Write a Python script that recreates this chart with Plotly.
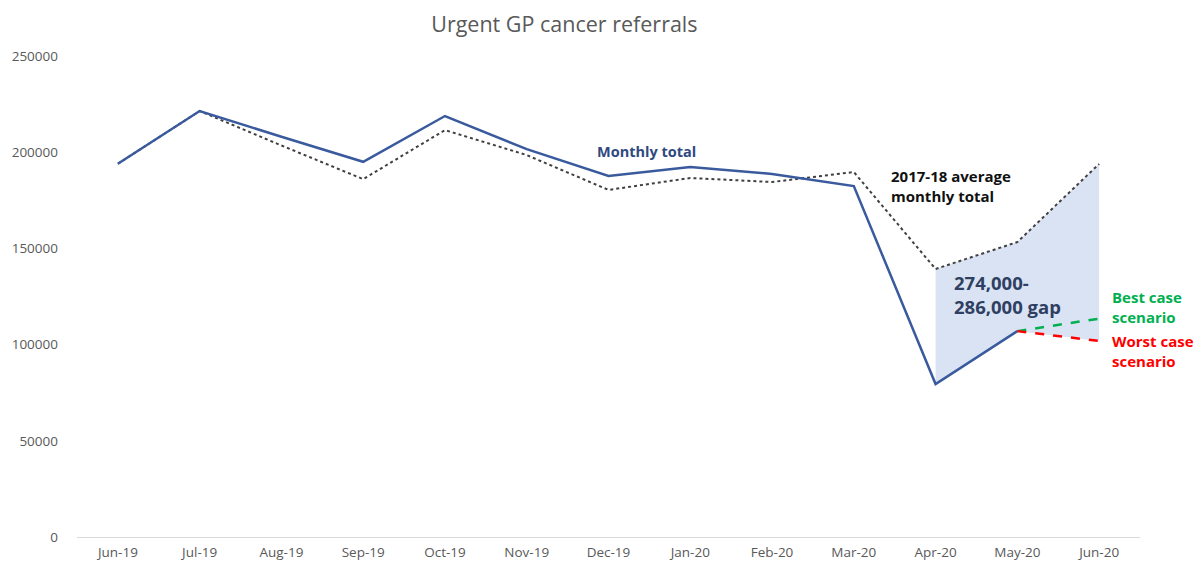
import plotly.graph_objects as go

months = ["Jun-19", "Jul-19", "Aug-19", "Sep-19", "Oct-19", "Nov-19", "Dec-19",
          "Jan-20", "Feb-20", "Mar-20", "Apr-20", "May-20", "Jun-20"]
monthly_total = [194000, 221400, 208000, 195000, 218800, 201600, 187600,
                 192300, 188700, 182400, 79500, 107000]
avg_2017_18 = [194000, 221400, 203500, 186000, 211500, 198500, 180400,
               186600, 184500, 189700, 139300, 153300, 193900]
best_case = [107000, 113500]
worst_case = [107000, 101900]
y_ticks = [0, 50000, 100000, 150000, 200000, 250000]

xi = list(range(len(months)))

fig = go.Figure()

# gap shading: between average and actual/worst case, Apr-20 to Jun-20
gap_x = [10, 11, 12, 12, 11, 10]
gap_y = [avg_2017_18[10], avg_2017_18[11], avg_2017_18[12],
         worst_case[1], monthly_total[11], monthly_total[10]]
fig.add_trace(go.Scatter(x=gap_x, y=gap_y, fill="toself", fillcolor="#DAE3F3",
                         line=dict(width=0), mode="lines", hoverinfo="skip",
                         showlegend=False))

fig.add_trace(go.Scatter(x=xi, y=avg_2017_18, mode="lines",
                         line=dict(color="#404040", width=2, dash="dot"),
                         showlegend=False))
fig.add_trace(go.Scatter(x=xi[:len(monthly_total)], y=monthly_total, mode="lines",
                         line=dict(color="#3A5A9E", width=2.5),
                         showlegend=False))
fig.add_trace(go.Scatter(x=[11, 12], y=best_case, mode="lines",
                         line=dict(color="#00B050", width=2.5, dash="dash"),
                         showlegend=False))
fig.add_trace(go.Scatter(x=[11, 12], y=worst_case, mode="lines",
                         line=dict(color="#FF0000", width=2.5, dash="dash"),
                         showlegend=False))

font_fam = "Open Sans, Noto Sans, sans-serif"

annotations = [
    dict(x=5.83, y=200600, text="<b>Monthly total</b>", xanchor="left", yanchor="middle",
         font=dict(size=14.5, color="#2F4A80", family=font_fam)),
    dict(x=9.43, y=182200, text="<b>2017-18 average<br>monthly total</b>", xanchor="left",
         yanchor="middle", align="left",
         font=dict(size=15, color="#111111", family=font_fam)),
    dict(x=10.2, y=126300, text="<b>274,000-<br>286,000 gap</b>", xanchor="left",
         yanchor="middle", align="left",
         font=dict(size=18.5, color="#2E3F62", family=font_fam)),
    dict(x=12.13, y=119300, text="<b>Best case<br>scenario</b>", xanchor="left",
         yanchor="middle", align="left",
         font=dict(size=15, color="#00B050", family=font_fam)),
    dict(x=12.13, y=96900, text="<b>Worst case<br>scenario</b>", xanchor="left",
         yanchor="middle", align="left",
         font=dict(size=15, color="#FF0000", family=font_fam)),
]
for a in annotations:
    a.update(xref="x", yref="y", showarrow=False)

fig.update_layout(
    width=1197, height=564,
    margin=dict(l=77, r=57, t=56, b=27),
    paper_bgcolor="white", plot_bgcolor="white",
    title=dict(text="Urgent GP cancer referrals", x=0.4715, xanchor="center",
               y=0.956, yanchor="middle",
               font=dict(size=21.5, color="#595959", family=font_fam)),
    annotations=annotations,
    font=dict(family=font_fam, color="#595959"),
)
fig.update_xaxes(range=[-0.5, 12.5], tickvals=xi, ticktext=months, showgrid=False,
                 zeroline=False, showline=True, linecolor="#D9D9D9", linewidth=1,
                 ticks="", ticklabelstandoff=3, automargin=False,
                 tickfont=dict(size=13.5, color="#595959"))
fig.update_yaxes(range=[0, 250000], tickvals=y_ticks, ticktext=[str(v) for v in y_ticks],
                 showgrid=False, zeroline=False, showline=False, ticks="",
                 ticklabelstandoff=18, automargin=False,
                 tickfont=dict(size=13.5, color="#595959"))

fig.write_html("out.html",
               config={"displayModeBar": False},
               post_script="document.body.style.margin='0';"
                           "document.body.style.overflow='hidden';")
